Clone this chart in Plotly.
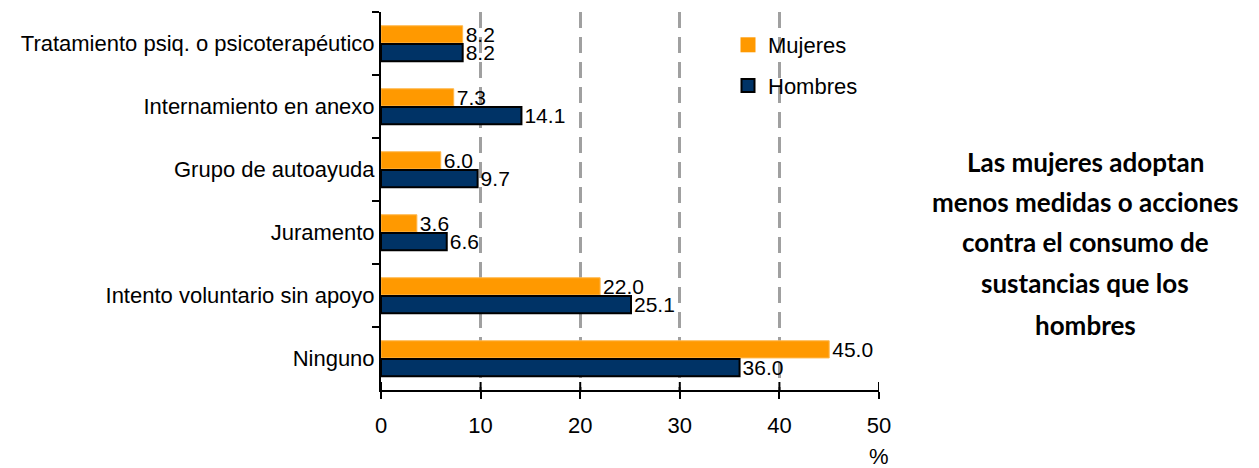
import plotly.graph_objects as go

categories = ["Tratamiento psiq. o psicoterapéutico", "Internamiento en anexo",
              "Grupo de autoayuda", "Juramento", "Intento voluntario sin apoyo", "Ninguno"]
mujeres = [8.2, 7.3, 6.0, 3.6, 22.0, 45.0]
hombres = [8.2, 14.1, 9.7, 6.6, 25.1, 36.0]
x_ticks = [0, 10, 20, 30, 40, 50]
note_lines = ["Las mujeres adoptan", "menos medidas o acciones", "contra el consumo de",
              "sustancias que los", "hombres"]

FONT = "Liberation Sans, Arial, sans-serif"
FS = 22
LFS = 21
ORANGE = "#FF9900"
NAVY = "#003366"

# page body has an 8px default margin; figure is sized to fit the window
W, H = 1251, 460
L, R, T, B = 373, 380, 4, 78
PW, PH = W - L - R, H - T - B


def px_x(wx):  # window x -> paper x
    return (wx - 8 - L) / PW


def px_y(wy):  # window y -> paper y
    return (H - B - (wy - 8)) / PH


fig = go.Figure()
fig.add_trace(go.Bar(
    y=categories, x=mujeres, name="Mujeres", orientation="h", showlegend=False,
    marker=dict(color=ORANGE, line=dict(color="#FFB84D", width=1)),
    text=[f"{v:.1f}" for v in mujeres], textposition="outside", constraintext="none",
    textfont=dict(family=FONT, size=LFS, color="#000"), cliponaxis=False,
))
fig.add_trace(go.Bar(
    y=categories, x=hombres, name="Hombres", orientation="h", showlegend=False,
    marker=dict(color=NAVY, line=dict(color="#000000", width=2)),
    text=[f"{v:.1f}" for v in hombres], textposition="outside", constraintext="none",
    textfont=dict(family=FONT, size=LFS, color="#000"), cliponaxis=False,
))
# legend entries with square swatches
fig.add_trace(go.Scatter(x=[None], y=[None], mode="markers", name="Mujeres",
                         legendgroup="m",
                         marker=dict(symbol="square", size=15, color=ORANGE,
                                     line=dict(width=0))))
fig.add_trace(go.Scatter(x=[None], y=[None], mode="markers", name="Hombres",
                         legendgroup="h",
                         marker=dict(symbol="square", size=13, color=NAVY,
                                     line=dict(width=2, color="#000"))))

# inner halves of the x-axis ticks (ticks cross the axis line)
for t in x_ticks:
    fig.add_shape(type="line", xref="x", yref="paper", x0=t, x1=t, y0=0, y1=8 / PH,
                  line=dict(color="#000", width=2))

line_y = [162, 202, 242, 283, 325]
for txt, wy in zip(note_lines, line_y):
    fig.add_annotation(
        text=f"<b>{txt}</b>", xref="paper", yref="paper", x=px_x(1085), y=px_y(wy),
        xanchor="center", yanchor="middle", showarrow=False,
        font=dict(family="Lato, Open Sans, sans-serif", size=26, color="#000"),
    )
fig.add_annotation(text="%", xref="x", yref="paper", x=50, y=px_y(456), showarrow=False,
                   xanchor="center", yanchor="middle",
                   font=dict(family=FONT, size=FS, color="#000"))

fig.update_layout(
    width=W, height=H,
    margin=dict(l=L, r=R, t=T, b=B, autoexpand=False),
    plot_bgcolor="white", paper_bgcolor="white",
    barmode="group", bargap=0.42, bargroupgap=0.06,
    font=dict(family=FONT, size=FS, color="#000"),
    legend=dict(x=px_x(728), y=px_y(24), xanchor="left", yanchor="top",
                font=dict(family=FONT, size=FS, color="#000"),
                tracegroupgap=9, itemwidth=30, bgcolor="rgba(0,0,0,0)"),
    xaxis=dict(range=[0, 50], tickvals=x_ticks, showgrid=True, gridcolor="#A0A0A0",
               griddash="16px,9px", gridwidth=3, showline=True, linecolor="#000",
               linewidth=2, ticks="outside", ticklen=7, tickwidth=2, tickcolor="#000",
               zeroline=False, tickfont=dict(size=FS), ticklabelstandoff=8),
    yaxis=dict(autorange="reversed", showline=True, linecolor="#000", linewidth=2,
               ticks="outside", tickson="boundaries", ticklen=7, tickwidth=2,
               tickcolor="#000", showgrid=False, tickfont=dict(size=FS)),
)

fig.write_html("out.html")
